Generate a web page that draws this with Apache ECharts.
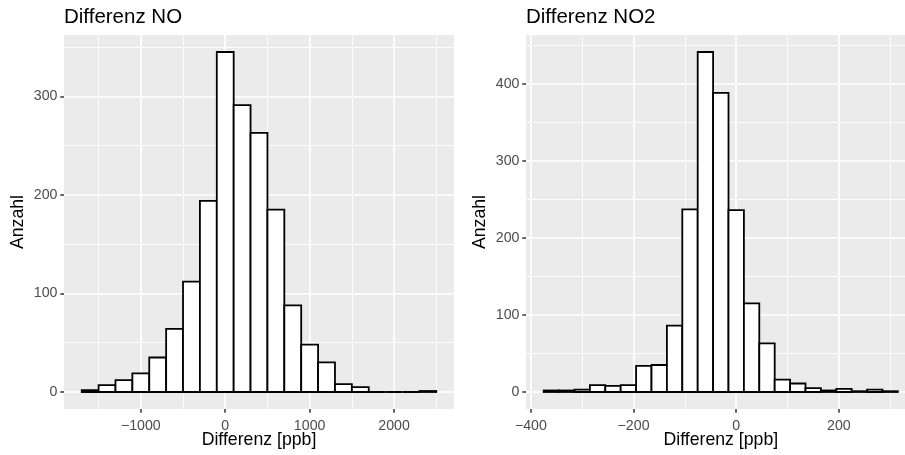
<!DOCTYPE html>
<html>
<head>
<meta charset="utf-8">
<script src="https://cdn.jsdelivr.net/npm/echarts@6/dist/echarts.min.js"></script>
<style>
  html, body { margin: 0; padding: 0; background: #fff; }
  #chart { width: 905px; height: 455px; }
</style>
</head>
<body>
<div id="chart"></div>
<script>
// Histogram of NO differences: bin centres (ppb) and counts
const noBinCenters = [-1600, -1400, -1200, -1000, -800, -600, -400, -200, 0, 200, 400,
                      600, 800, 1000, 1200, 1400, 1600, 1800, 2000, 2200, 2400];
const noCounts = [2, 7, 12, 19, 35, 64, 112, 194, 345, 291, 263,
                  185, 88, 48, 30, 8, 5, 0, 0, 0, 1];
const noBinWidth = 200;

// Histogram of NO2 differences: bin centres (ppb) and counts
const no2BinCenters = [-360, -330, -300, -270, -240, -210, -180, -150, -120, -90, -60, -30,
                       0, 30, 60, 90, 120, 150, 180, 210, 240, 270, 300];
const no2Counts = [2, 2, 3, 9, 8, 9, 34, 35, 86, 237, 441, 388,
                   236, 115, 63, 16, 11, 5, 2, 4, 1, 3, 1];
const no2BinWidth = 30;

// Tick labels
const noXTicks = [-1000, 0, 1000, 2000];
const noYTicks = [0, 100, 200, 300];
const no2XTicks = [-400, -200, 0, 200];
const no2YTicks = [0, 100, 200, 300, 400];

const titles = ['Differenz NO', 'Differenz NO2'];
const xTitle = 'Differenz [ppb]';
const yTitle = 'Anzahl';

// ggplot-like padding: 5% of the data range on each side
function padded(lo, hi) {
  const pad = (hi - lo) * 0.05;
  return [lo - pad, hi + pad];
}

const noX = padded(noBinCenters[0] - noBinWidth / 2, noBinCenters[noBinCenters.length - 1] + noBinWidth / 2);
const no2X = padded(no2BinCenters[0] - no2BinWidth / 2, no2BinCenters[no2BinCenters.length - 1] + no2BinWidth / 2);
const noY = padded(0, Math.max(...noCounts));
const no2Y = padded(0, Math.max(...no2Counts));

const FONT = '"Liberation Sans", Arial, Helvetica, sans-serif';
const panelBg = '#EBEBEB';

function xAxisFor(idx, ext, ticks) {
  return {
    type: 'value', gridIndex: idx, position: 'bottom', min: ext[0], max: ext[1], splitNumber: 5,
    name: xTitle, nameLocation: 'middle', nameGap: 22.5, nameMoveOverlap: false,
    nameTextStyle: { color: '#000', fontSize: 17.7, fontFamily: FONT },
    axisLine: { show: false, onZero: false },
    axisTick: { show: true, length: 3.7, customValues: ticks, lineStyle: { color: '#333', width: 1.5 } },
    axisLabel: { customValues: ticks, margin: 10, color: '#4D4D4D', fontSize: 14.2, fontFamily: FONT,
                 formatter: v => (v < 0 ? '\u2212' + Math.abs(v) : String(v)) },
    splitLine: { show: true, lineStyle: { color: '#fff', width: 1.7 } },
    minorTick: { show: false, splitNumber: 2 },
    minorSplitLine: { show: true, lineStyle: { color: '#fff', width: 0.85 } }
  };
}

function yAxisFor(idx, ext, ticks) {
  return {
    type: 'value', gridIndex: idx, position: 'left', min: ext[0], max: ext[1], splitNumber: 5,
    name: yTitle, nameLocation: 'middle', nameGap: 36.5,
    nameTextStyle: { color: '#000', fontSize: 17.7, fontFamily: FONT },
    axisLine: { show: false, onZero: false },
    axisTick: { show: true, length: 3.7, customValues: ticks, lineStyle: { color: '#333', width: 1.5 } },
    axisLabel: { customValues: ticks, margin: 6.5, color: '#4D4D4D', fontSize: 14.2, fontFamily: FONT },
    splitLine: { show: true, lineStyle: { color: '#fff', width: 1.7 } },
    minorTick: { show: false, splitNumber: 2 },
    minorSplitLine: { show: true, lineStyle: { color: '#fff', width: 0.85 } }
  };
}

function histSeries(idx, centers, counts, width) {
  return {
    type: 'custom', xAxisIndex: idx, yAxisIndex: idx,
    data: centers.map((c, i) => [c - width / 2, c + width / 2, counts[i]]),
    renderItem: function (params, api) {
      const topLeft = api.coord([api.value(0), api.value(2)]);
      const bottomRight = api.coord([api.value(1), 0]);
      return {
        type: 'rect',
        shape: { x: topLeft[0], y: topLeft[1],
                 width: bottomRight[0] - topLeft[0], height: bottomRight[1] - topLeft[1] },
        style: { fill: '#fff', stroke: '#000', lineWidth: 1.8 }
      };
    },
    silent: true
  };
}

const titleStyle = { color: '#000', fontSize: 20.5, fontWeight: 'normal', fontFamily: FONT };

const chart = echarts.init(document.getElementById('chart'), null, { renderer: 'canvas' });
chart.setOption({
  animation: false,
  backgroundColor: '#fff',
  title: [
    { text: titles[0], left: 64, top: 7, padding: 0, textStyle: titleStyle },
    { text: titles[1], left: 526, top: 7, padding: 0, textStyle: titleStyle }
  ],
  grid: [
    { left: 64, right: 451, top: 35, bottom: 46, show: true, backgroundColor: panelBg, borderWidth: 0,
      containLabel: false, outerBoundsMode: 'none' },
    { left: 526, right: -10.6, top: 35, bottom: 46, show: true, backgroundColor: panelBg, borderWidth: 0,
      containLabel: false, outerBoundsMode: 'none' }
  ],
  xAxis: [xAxisFor(0, noX, noXTicks), xAxisFor(1, no2X, no2XTicks)],
  yAxis: [yAxisFor(0, noY, noYTicks), yAxisFor(1, no2Y, no2YTicks)],
  series: [
    histSeries(0, noBinCenters, noCounts, noBinWidth),
    histSeries(1, no2BinCenters, no2Counts, no2BinWidth)
  ]
});
</script>
</body>
</html>
